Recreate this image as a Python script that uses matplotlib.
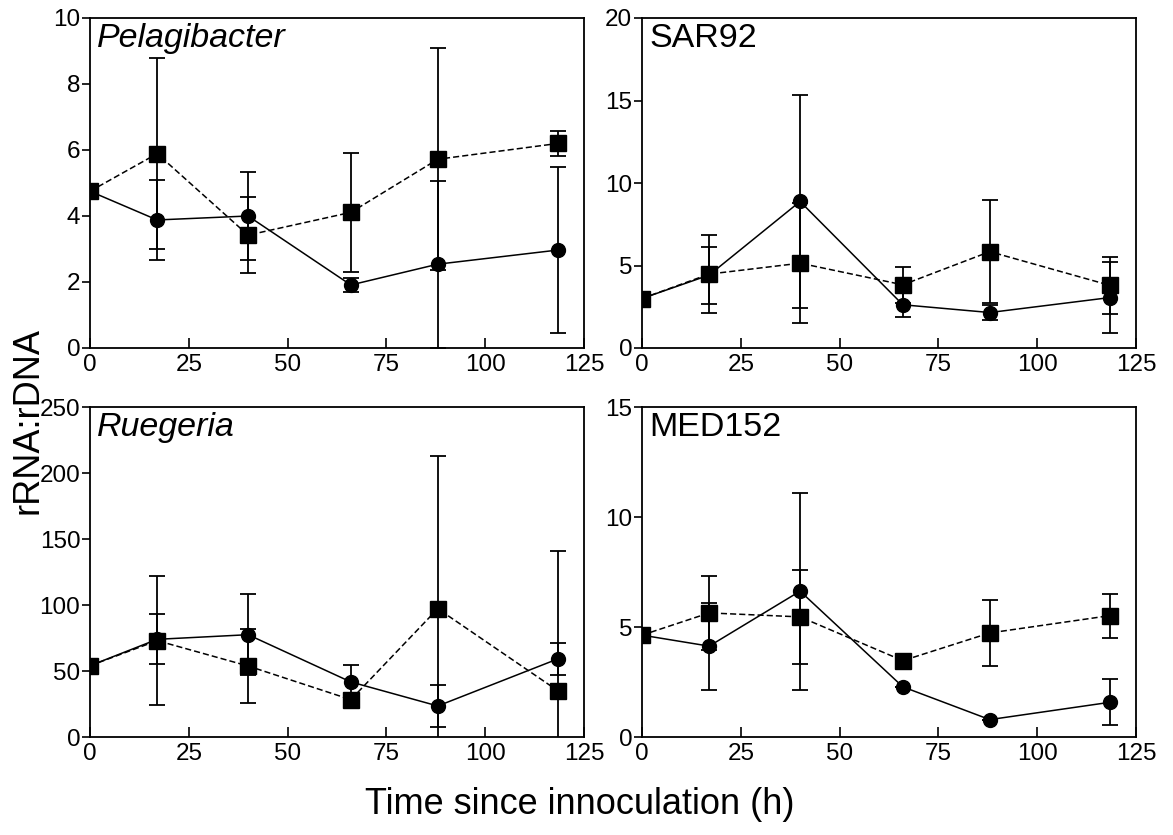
import numpy as np
import matplotlib
matplotlib.use("Agg")
import matplotlib.pyplot as plt

# ---- data ----
time_h = [0, 17, 40, 66, 88, 118.5]
xticks = [0, 25, 50, 75, 100, 125]

pel_circle = [4.75, 3.88, 4.0, 1.91, 2.54, 2.97]
pel_circle_err = [0, 1.21, 1.33, 0.22, 2.53, 2.52]
pel_square = [4.75, 5.89, 3.42, 4.11, 5.72, 6.2]
pel_square_err = [0, 2.9, 1.15, 1.8, 3.36, 0.37]

sar_circle = [3.0, 4.42, 8.88, 2.62, 2.15, 3.06]
sar_circle_err = [0, 1.73, 6.45, 0.75, 0.48, 2.13]
sar_square = [3.0, 4.48, 5.14, 3.83, 5.84, 3.79]
sar_square_err = [0, 2.37, 3.63, 1.1, 3.14, 1.7]

rue_circle = [54, 74, 77.5, 41.7, 23.5, 59.3]
rue_circle_err = [0, 19, 30.6, 12.6, 16.2, 12.2]
rue_square = [54, 73, 53.8, 28.3, 97.2, 34.8]
rue_square_err = [0, 49, 28, 4, 115.4, 106]

med_circle = [4.63, 4.13, 6.63, 2.28, 0.79, 1.58]
med_circle_err = [0, 1.98, 4.48, 0, 0, 1.04]
med_square = [4.63, 5.64, 5.46, 3.47, 4.73, 5.52]
med_square_err = [0, 1.67, 2.14, 0, 1.5, 1.0]

font = "Liberation Sans"

W, H = 1173, 835
fig = plt.figure(figsize=(W / 100, H / 100), dpi=100)

def pos(x0, y0, x1, y1):
    return [x0 / W, 1 - y1 / H, (x1 - x0) / W, (y1 - y0) / H]

panels = [
    (pos(90, 18, 584, 348), "Pelagibacter", True, (0, 10), [0, 2, 4, 6, 8, 10],
     pel_circle, pel_circle_err, pel_square, pel_square_err),
    (pos(642, 18, 1136, 348), "SAR92", False, (0, 20), [0, 5, 10, 15, 20],
     sar_circle, sar_circle_err, sar_square, sar_square_err),
    (pos(90, 407, 584, 737), "Ruegeria", True, (0, 250), [0, 50, 100, 150, 200, 250],
     rue_circle, rue_circle_err, rue_square, rue_square_err),
    (pos(642, 407, 1136, 737), "MED152", False, (0, 15), [0, 5, 10, 15],
     med_circle, med_circle_err, med_square, med_square_err),
]

for rect, label, italic, ylim, yticks, c, ce, s, se in panels:
    ax = fig.add_axes(rect)
    ax.errorbar(time_h, c, yerr=ce, color="black", lw=1.1, ls="-", marker="o",
                ms=10, capsize=6, capthick=1.3, elinewidth=1.3, zorder=3)
    ax.errorbar(time_h, s, yerr=se, color="black", lw=1.1, ls=(0, (4, 2)), marker="s",
                ms=12, capsize=6, capthick=1.3, elinewidth=1.3, zorder=4)
    ax.set_xlim(0, 125)
    ax.set_ylim(*ylim)
    ax.set_xticks(xticks)
    ax.set_yticks(yticks)
    ax.set_xticklabels([str(t) for t in xticks], fontfamily=font, fontsize=17.5)
    ax.set_yticklabels([str(t) for t in yticks], fontfamily=font, fontsize=17.5)
    ax.tick_params(axis="x", direction="in", length=7, width=1.2, pad=4)
    ax.tick_params(axis="y", direction="out", length=6, width=1.2, pad=1)
    for sp in ax.spines.values():
        sp.set_linewidth(1.3)
    ax.text(0.015, 0.912, label, transform=ax.transAxes, fontsize=24.5,
            fontfamily=font, fontstyle="italic" if italic else "normal",
            ha="left", va="baseline")

fig.text(28 / W, 1 - 420 / H, "rRNA:rDNA", rotation=90, fontsize=26,
         fontfamily=font, ha="center", va="center")
fig.text(580 / W, 1 - 805 / H, "Time since innoculation (h)", fontsize=26,
         fontfamily=font, ha="center", va="center")

fig.savefig("out.png", dpi=100)
